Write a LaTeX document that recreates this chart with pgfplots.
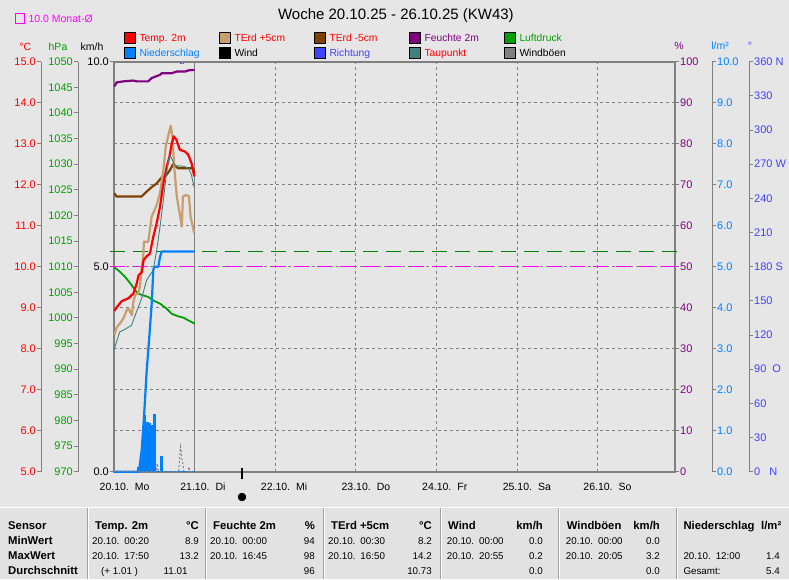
\documentclass[border=0pt]{standalone}
\usepackage{fontspec}
\setmainfont{Liberation Sans}
\usepackage{pgfplots}
\pgfplotsset{compat=1.18}

\definecolor{bg}{RGB}{230,230,230}
\definecolor{bgT}{RGB}{226,226,226}
\definecolor{cRed}{RGB}{255,0,0}
\definecolor{cTan}{RGB}{200,158,110}
\definecolor{cBrown}{RGB}{128,64,0}
\definecolor{cPurple}{RGB}{128,0,128}
\definecolor{cGreen}{RGB}{0,160,0}
\definecolor{cBlue}{RGB}{0,128,255}
\definecolor{cDir}{RGB}{64,64,255}
\definecolor{cTeal}{RGB}{64,128,128}
\definecolor{cGust}{RGB}{128,128,128}
\definecolor{cMag}{RGB}{255,0,255}
\definecolor{cAxis}{RGB}{128,128,128}
\definecolor{cSep}{RGB}{160,160,160}

\newcommand{\fs}[1]{\fontsize{#1}{#1}\selectfont}
\newcommand{\leg}[5]{%
  \draw[black, line width=0.8pt, fill=#3] (#1,#2) rectangle ++(11,11);
  \node[anchor=base west, inner sep=0pt, font=\fs{10.3}, text=#4] at (#1+15.3,#2+1.7) {#5};}
\newcommand{\tl}[3]{\node[anchor=base west, inner sep=0pt, font=\fs{9.8}] at (#1,#2) {#3};}
\newcommand{\tr}[3]{\node[anchor=base east, inner sep=0pt, font=\fs{9.8}] at (#1,#2) {#3};}
\newcommand{\bl}[3]{\node[anchor=base west, inner sep=0pt, font=\fs{11.3}\bfseries] at (#1,#2) {#3};}
\newcommand{\br}[3]{\node[anchor=base east, inner sep=0pt, font=\fs{11.3}\bfseries] at (#1,#2) {#3};}

\pgfplotsset{
 plotbox/.style={scale only axis, width=561pt, height=410pt, xmin=0, xmax=167,
   at={(114pt,107.3pt)}, anchor=south west},
 overlay/.style={plotbox, hide axis, clip=false},
 ruler/.style={scale only axis, width=1pt, height=410pt, xmin=0, xmax=1, hide x axis,
   y axis line style={draw=cAxis, line width=1pt},
   tick align=outside, major tick length=4pt, minor tick num=0,
   tick style={draw=cAxis, line width=1pt},
   yticklabel style={font=\fs{11}, inner sep=1pt}},
 lruler/.style={ruler, axis y line*=left, anchor=south west},
 rruler/.style={ruler, axis y line*=right, anchor=south east},
}

\begin{document}
\begin{tikzpicture}[x=1pt,y=1pt]
\path[use as bounding box, fill=bg] (0,0) rectangle (789,579);
\fill[bgT] (0,0) rectangle (789,71);

% title and header texts
\node[anchor=base, inner sep=0pt, font=\fs{15}] at (395.9,559) {Woche 20.10.25 - 26.10.25 (KW43)};
\draw[cMag, line width=1pt] (15,555) rectangle (24,565.5);
\node[anchor=base west, inner sep=0pt, font=\fs{10.5}, text=cMag] at (28.3,556.3) {10.0 Monat-Ø};

\leg{124}{535.5}{cRed}{cRed}{Temp. 2m}
\leg{219}{535.5}{cTan}{cRed}{TErd +5cm}
\leg{314}{535.5}{cBrown}{cRed}{TErd -5cm}
\leg{409}{535.5}{cPurple}{cPurple}{Feuchte 2m}
\leg{504}{535.5}{cGreen}{cGreen}{Luftdruck}
\leg{124}{521}{cBlue}{cBlue}{Niederschlag}
\leg{219}{521}{black}{black}{Wind}
\leg{314}{521}{cDir}{cDir}{Richtung}
\leg{409}{521}{cTeal}{cRed}{Taupunkt}
\leg{504}{521}{cGust}{black}{Windböen}

\node[anchor=base, inner sep=0pt, font=\fs{10.5}, text=cRed] at (25.3,528.3) {°C};
\node[anchor=base, inner sep=0pt, font=\fs{10.5}, text=cGreen] at (58,528.3) {hPa};
\node[anchor=base, inner sep=0pt, font=\fs{10.5}, text=black] at (92,528.3) {km/h};
\node[anchor=base, inner sep=0pt, font=\fs{10.5}, text=cPurple] at (679,529) {\%};
\node[anchor=base, inner sep=0pt, font=\fs{10.5}, text=cBlue] at (720,529) {l/m²};
\node[anchor=base, inner sep=0pt, font=\fs{10.5}, text=cDir] at (750,529) {°};

% rulers
\begin{axis}[lruler, at={(41pt,107.3pt)}, ymin=5, ymax=15, ytick={5,6,...,15},
  yticklabel style={text=cRed},
  yticklabel={\pgfmathprintnumber[fixed,fixed zerofill,precision=1,assume math mode=true]{\tick}}]
\end{axis}
\begin{axis}[lruler, at={(78pt,107.3pt)}, ymin=970, ymax=1050, ytick={970,975,...,1050},
  yticklabel style={text=cGreen},
  yticklabel={\pgfmathprintnumber[fixed,precision=0,1000 sep={},assume math mode=true]{\tick}}]
\end{axis}
\begin{axis}[lruler, at={(114pt,107.3pt)}, ymin=0, ymax=10, ytick={0,5,10},
  yticklabel style={text=black},
  yticklabel={\pgfmathprintnumber[fixed,fixed zerofill,precision=1,assume math mode=true]{\tick}}]
\end{axis}
\begin{axis}[rruler, at={(675pt,107.3pt)}, ymin=0, ymax=100, ytick={0,10,...,100},
  yticklabel style={text=cPurple},
  yticklabel={\pgfmathprintnumber[fixed,precision=0,assume math mode=true]{\tick}}]
\end{axis}
\begin{axis}[rruler, at={(712pt,107.3pt)}, ymin=0, ymax=10, ytick={0,1,...,10},
  yticklabel style={text=cBlue},
  yticklabel={\pgfmathprintnumber[fixed,fixed zerofill,precision=1,assume math mode=true]{\tick}}]
\end{axis}
\begin{axis}[rruler, at={(749pt,107.3pt)}, ymin=0, ymax=360, ytick={0,30,...,360},
  yticklabel style={text=cDir},
  yticklabels={0\hspace{9pt}N,30,60,90\hspace{6pt}O,120,150,180 S,210,240,270 W,300,330,360 N}]
\end{axis}

% main axis with grid and frame
\begin{axis}[plotbox, ymin=5, ymax=15,
  axis line style={draw=cAxis, line width=2pt},
  xtick={0,24,...,144},
  xticklabels={20.10.\hspace{6pt}Mo,21.10.\hspace{6pt}Di,22.10.\hspace{6pt}Mi,23.10.\hspace{6pt}Do,24.10.\hspace{6pt}Fr,25.10.\hspace{6pt}Sa,26.10.\hspace{6pt}So},
  ytick={6,7,...,14}, yticklabel=\empty,
  major tick length=0pt,
  xmajorgrids, ymajorgrids,
  major grid style={draw=cAxis, line width=0.8pt, dash pattern=on 3pt off 3pt},
  extra x ticks={24}, extra x tick labels={},
  extra x tick style={grid=major, major grid style={draw=cAxis, line width=1.2pt, solid}},
  xticklabel style={font=\fs{10.5}, anchor=north west, inner sep=0pt, xshift=-14.5pt, yshift=-11pt},
  clip=false]
\addplot[cMag, line width=0.8pt, dash pattern=on 15pt off 8pt] coordinates {(-1.2,10) (168,10)};
\end{axis}

% pressure
\begin{axis}[overlay, ymin=970, ymax=1050]
\addplot[cGreen!80!black, line width=0.8pt, dash pattern=on 15pt off 8pt] coordinates {(-1.2,1012.9) (168,1012.9)};
\addplot[cGreen, line width=1.8pt, line join=round] coordinates {
(0.1,1009.9)(1.8,1009.0)(3.3,1008.0)(4.8,1006.8)(6.3,1005.4)(7.2,1004.75)(8.7,1004.4)(10.2,1004.1)
(11.7,1003.4)(13.7,1002.8)(15.7,1001.8)(17.2,1000.8)(19.2,1000.3)(20.7,1000.05)(22.2,999.5)(24.0,998.9)};
\end{axis}

% wind (km/h)
\begin{axis}[overlay, ymin=0, ymax=10]
\addplot[black, line width=1pt] coordinates {(0,0)(24,0)};
\end{axis}

% precipitation (l/m2)
\begin{axis}[overlay, ymin=0, ymax=10]
\addplot[const plot mark left, fill=cBlue, draw=cBlue, line width=0.8pt] coordinates {
(0,0)(7.0,0.11)(7.5,0.23)(7.95,0.39)(8.3,0.68)(8.5,1.0)(8.65,1.37)(9.2,0)(9.7,1.2)(10.1,1.08)
(10.45,1.17)(10.8,1.12)(11.45,1.0)(11.75,1.39)(12.45,0)(13.7,0.37)(14.5,0)(24,0)} \closedcycle;
\addplot[cBlue, line width=2.2pt, line join=round] coordinates {
(0,0)(7.4,0)(8.25,0.53)(8.93,1.34)(9.74,2.48)(10.51,3.29)(11.23,4.11)(11.7,4.92)(12.0,5.0)
(13.2,5.0)(13.7,5.24)(14.2,5.37)(24,5.37)};
\end{axis}

% humidity
\begin{axis}[overlay, ymin=0, ymax=100]
\addplot[cPurple, line width=2.2pt, line join=round] coordinates {
(0.1,93.96)(0.8,94.95)(2.8,95.2)(5.7,95.4)(6.8,95.2)(10.2,95.2)(11.2,96.0)(13.7,96.8)(14.2,97.2)
(17.2,97.2)(18.7,97.6)(21.2,97.6)(22.2,97.9)(24.0,98.0)};
\end{axis}

% temperatures
\begin{axis}[overlay, ymin=5, ymax=15]
\addplot[cBrown, line width=2.2pt, line join=round] coordinates {
(0.1,11.79)(0.8,11.71)(8.2,11.71)(9.7,11.83)(11.2,11.94)(12.7,12.03)(14.2,12.18)(15.4,12.22)
(16.7,12.36)(17.6,12.50)(19.1,12.40)(23.6,12.40)(23.9,12.28)};
\addplot[cTan, line width=2.2pt, line join=round] coordinates {
(0.1,8.33)(0.8,8.52)(1.8,8.62)(2.8,8.74)(3.8,8.94)(4.3,8.98)(5.3,8.82)(5.7,9.11)(6.3,9.31)(7.2,9.35)
(7.7,9.51)(8.2,9.92)(8.7,10.24)(8.9,10.61)(10.2,10.61)(11.2,11.22)(12.7,11.5)(13.7,11.8)(14.7,12.36)
(15.4,12.93)(16.2,13.21)(16.9,13.44)(17.4,13.17)(18.0,12.36)(18.7,11.71)(19.7,11.22)(20.2,10.98)
(20.5,11.71)(21.4,11.75)(22.3,11.72)(22.8,11.22)(23.9,10.81)};
\addplot[cRed, line width=2.2pt, line join=round] coordinates {
(0.1,8.92)(0.8,9.01)(2.3,9.16)(4.3,9.23)(5.8,9.35)(6.8,9.6)(7.3,9.79)(8.3,9.87)(8.8,10.16)(9.8,10.26)
(10.7,10.32)(11.7,10.73)(12.7,11.06)(13.7,11.46)(14.7,12.03)(15.7,12.44)(16.5,12.68)(17.2,13.01)
(17.8,13.18)(18.6,13.09)(19.6,12.85)(21.1,12.81)(22.1,12.73)(23.1,12.52)(23.9,12.20)};
\addplot[cTeal, line width=0.9pt, line join=round] coordinates {
(0.1,8.0)(1.7,8.41)(3.2,8.47)(5.2,8.57)(6.7,8.9)(8.2,9.22)(9.7,9.67)(11.7,9.92)(12.7,10.40)(13.7,10.97)
(14.7,11.63)(15.5,12.2)(16.2,12.6)(16.7,12.72)(17.4,12.6)(18.2,12.45)(19.2,12.46)(20.7,12.45)
(22.2,12.4)(23.0,12.25)(23.9,11.93)};
\end{axis}

% gusts (km/h)
\begin{axis}[overlay, ymin=0, ymax=10]
\addplot[cGust, line width=1pt, dash pattern=on 2pt off 2pt] coordinates {
(0,0)(12.6,0)(12.9,0.2)(13.2,0)(19.3,0)(19.6,0.45)(19.8,0.61)(20.0,0.5)(20.2,0.3)(20.5,0.2)(20.8,0)
(22.0,0)(22.3,0.12)(22.6,0)(24,0)};
\end{axis}

% direction
\begin{axis}[overlay, ymin=0, ymax=360]
\addplot[cDir, line width=1.5pt] coordinates {(19.7,358.5)(20.1,358.5)};
\addplot[cDir, line width=1.5pt] coordinates {(20.4,358.5)(20.9,358.5)};
\end{axis}

% moon phase marker
\draw[black, line width=1.2pt] (242,99.7) -- (242,111.3);
\filldraw[fill=black, draw=white, line width=0.6pt] (242,82) circle (4.8);

% table
\draw[white, line width=1pt] (0,71.3) -- (789,71.3);
\foreach \xx in {87.3,205.7,323.3,440,558.3,676.7} {
  \draw[cSep, line width=1pt] (\xx,0) -- (\xx,70.8);
  \draw[white, line width=1pt] (\xx+1,0) -- (\xx+1,70.8);
}
\bl{8}{50}{Sensor}
\bl{8}{35}{MinWert}
\bl{8}{20}{MaxWert}
\bl{8}{5}{Durchschnitt}

\bl{95}{50}{Temp. 2m}\br{199}{50}{°C}
\tl{92}{35}{20.10.\hspace{5pt}00:20}\tr{199}{35}{8.9}
\tl{92}{20}{20.10.\hspace{5pt}17:50}\tr{199}{20}{13.2}
\tl{101}{5}{(+ 1.01 )}\tr{187.7}{5}{11.01}

\bl{213}{50}{Feuchte 2m}\br{315}{50}{\%}
\tl{210}{35}{20.10.\hspace{5pt}00:00}\tr{315}{35}{94}
\tl{210}{20}{20.10.\hspace{5pt}16:45}\tr{315}{20}{98}
\tr{315}{5}{96}

\bl{331}{50}{TErd +5cm}\br{432}{50}{°C}
\tl{328}{35}{20.10.\hspace{5pt}00:30}\tr{432}{35}{8.2}
\tl{328}{20}{20.10.\hspace{5pt}16:50}\tr{432}{20}{14.2}
\tr{432}{5}{10.73}

\bl{448}{50}{Wind}\br{543}{50}{km/h}
\tl{446.7}{35}{20.10.\hspace{5pt}00:00}\tr{543}{35}{0.0}
\tl{446.7}{20}{20.10.\hspace{5pt}20:55}\tr{543}{20}{0.2}
\tr{543}{5}{0.0}

\bl{566.7}{50}{Windböen}\br{660}{50}{km/h}
\tl{565.7}{35}{20.10.\hspace{5pt}00:00}\tr{660}{35}{0.0}
\tl{565.7}{20}{20.10.\hspace{5pt}20:05}\tr{660}{20}{3.2}
\tr{660}{5}{0.0}

\bl{683.3}{50}{Niederschlag}\bl{761}{50}{l/m²}
\tl{683.3}{20}{20.10.\hspace{5pt}12:00}\tr{780}{20}{1.4}
\tl{683.3}{5}{Gesamt:}\tr{780}{5}{5.4}
\end{tikzpicture}
\end{document}
